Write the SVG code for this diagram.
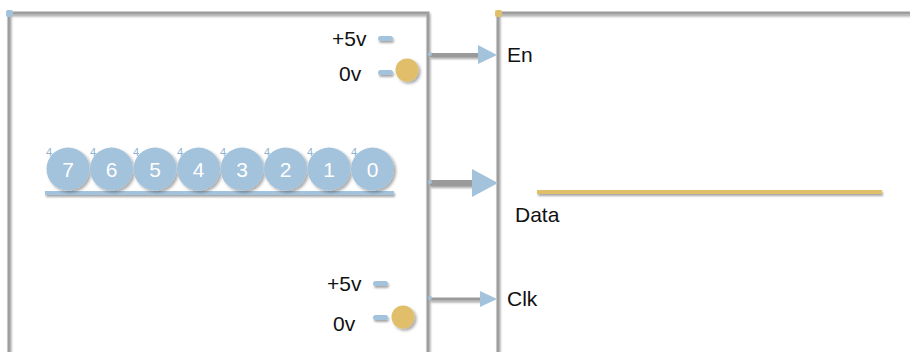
<svg xmlns="http://www.w3.org/2000/svg" width="910" height="352" viewBox="0 0 910 352">
  <defs>
    <!-- user-space region so thin horizontal strokes keep their shadow -->
    <filter id="shadow" filterUnits="userSpaceOnUse" x="0" y="0" width="910" height="352">
      <feDropShadow dx="1" dy="2" stdDeviation="1.2" flood-color="#000" flood-opacity="0.35"/>
    </filter>
    <filter id="beadShadow" x="-30%" y="-30%" width="160%" height="160%">
      <feDropShadow dx="2" dy="2" stdDeviation="1.5" flood-color="#000" flood-opacity="0.35"/>
    </filter>
  </defs>
  <style>
    .frame { fill: none; stroke: #9e9e9e; stroke-width: 3; filter: url(#shadow); }
    .wire { stroke: #9a9a9a; fill: none; filter: url(#shadow); }
    .head { fill: #a3c2db; }
    .lbl { font-family: "Liberation Sans", Arial, sans-serif; font-size: 21px; fill: #111; }
    .bead { fill: #a3c2db; filter: url(#beadShadow); }
    .digit { font-family: "Liberation Sans", Arial, sans-serif; font-size: 21px; fill: #fff; text-anchor: middle; }
    .tick { font-family: "Liberation Sans", Arial, sans-serif; font-size: 11px; fill: #8fb3d2; }
    .pin { fill: #a3c2db; filter: url(#shadow); }
    .knob { fill: #e0be6b; filter: url(#beadShadow); }
  </style>

  <!-- sender and receiver frames -->
  <g id="sender">
    <path class="frame" d="M9,352 V13 H428 V352"/>
    <rect x="6" y="10" width="7" height="7" rx="2" fill="#a3c2db"/>
  </g>
  <g id="receiver">
    <path class="frame" d="M498,352 V13 H912"/>
    <rect x="495" y="10" width="7" height="7" rx="2" fill="#e0be6b"/>
    <text class="lbl" x="507" y="62">En</text>
    <text class="lbl" x="515" y="222">Data</text>
    <text class="lbl" x="507" y="306">Clk</text>
    <line x1="537" y1="192" x2="882" y2="192" stroke="#e0be6b" stroke-width="4" filter="url(#shadow)"/>
  </g>

  <!-- enable switch -->
  <g id="enable-switch">
    <text class="lbl" x="332" y="46">+5v</text>
    <text class="lbl" x="339" y="81">0v</text>
    <rect class="pin" x="378" y="36" width="15" height="5" rx="2.5"/>
    <rect class="pin" x="378" y="70" width="15" height="5" rx="2.5"/>
    <circle class="knob" cx="407" cy="70" r="11.5"/>
  </g>

  <!-- data byte, bits 7..0 -->
  <g id="byte">
    <rect x="45" y="191" width="349" height="4" fill="#a3c2db" filter="url(#shadow)"/>
    <g class="bead">
      <circle cx="68" cy="169" r="21.5"/>
      <circle cx="111.5" cy="169" r="21.5"/>
      <circle cx="155" cy="169" r="21.5"/>
      <circle cx="198.5" cy="169" r="21.5"/>
      <circle cx="242" cy="169" r="21.5"/>
      <circle cx="285.5" cy="169" r="21.5"/>
      <circle cx="329" cy="169" r="21.5"/>
      <circle cx="372.5" cy="169" r="21.5"/>
    </g>
    <text class="digit" x="68" y="177">7</text>
    <text class="digit" x="111.5" y="177">6</text>
    <text class="digit" x="155" y="177">5</text>
    <text class="digit" x="198.5" y="177">4</text>
    <text class="digit" x="242" y="177">3</text>
    <text class="digit" x="285.5" y="177">2</text>
    <text class="digit" x="329" y="177">1</text>
    <text class="digit" x="372.5" y="177">0</text>
    <text class="tick" x="46" y="156">4</text>
    <text class="tick" x="90" y="156">4</text>
    <text class="tick" x="133" y="156">4</text>
    <text class="tick" x="177" y="156">4</text>
    <text class="tick" x="220" y="156">4</text>
    <text class="tick" x="264" y="156">4</text>
    <text class="tick" x="307" y="156">4</text>
    <text class="tick" x="351" y="156">4</text>
  </g>

  <!-- clock switch -->
  <g id="clock-switch">
    <text class="lbl" x="327" y="291">+5v</text>
    <text class="lbl" x="333" y="331">0v</text>
    <rect class="pin" x="373" y="281" width="15" height="5" rx="2.5"/>
    <rect class="pin" x="373" y="315" width="15" height="5" rx="2.5"/>
    <circle class="knob" cx="403" cy="317" r="11.5"/>
  </g>

  <!-- connectors -->
  <g id="connectors">
    <line class="wire" x1="430" y1="55" x2="480" y2="55" stroke-width="4"/>
    <polygon class="head" points="478,45 497,55 478,64"/>
    <circle cx="430" cy="54" r="2" fill="#a3c2db"/>

    <line class="wire" x1="430" y1="183" x2="474" y2="183" stroke-width="6"/>
    <polygon class="head" points="472,169 498,183 472,197"/>
    <circle cx="430" cy="182" r="2" fill="#a3c2db"/>

    <line class="wire" x1="430" y1="299" x2="482" y2="299" stroke-width="3"/>
    <polygon class="head" points="480,291 497,299 480,307"/>
    <circle cx="430" cy="298" r="2" fill="#a3c2db"/>
  </g>
</svg>
